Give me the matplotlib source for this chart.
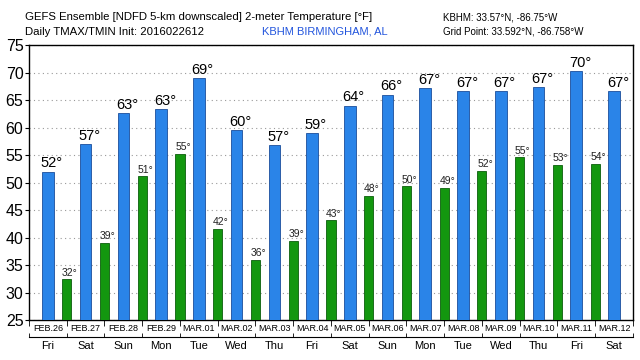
import matplotlib
matplotlib.use("Agg")
import matplotlib.pyplot as plt
import numpy as np

dates = ["FEB.26", "FEB.27", "FEB.28", "FEB.29", "MAR.01", "MAR.02", "MAR.03", "MAR.04",
         "MAR.05", "MAR.06", "MAR.07", "MAR.08", "MAR.09", "MAR.10", "MAR.11", "MAR.12"]
days = ["Fri", "Sat", "Sun", "Mon", "Tue", "Wed", "Thu", "Fri",
        "Sat", "Sun", "Mon", "Tue", "Wed", "Thu", "Fri", "Sat"]
tmax = [52.0, 57.0, 62.7, 63.4, 69.0, 59.6, 56.8, 59.0, 64.0, 66.0, 67.2, 66.6, 66.7, 67.3, 70.2, 66.7]
tmax_labels = [52, 57, 63, 63, 69, 60, 57, 59, 64, 66, 67, 67, 67, 67, 70, 67]
tmin = [32.4, 39.0, 51.1, 55.2, 41.6, 36.0, 39.4, 43.1, 47.6, 49.3, 49.0, 52.1, 54.6, 53.2, 53.4]
tmin_labels = [32, 39, 51, 55, 42, 36, 39, 43, 48, 50, 49, 52, 55, 53, 54]

plt.rcParams['font.family'] = ['Liberation Sans Narrow', 'Liberation Sans', 'DejaVu Sans']
fig = plt.figure(figsize=(6.4, 3.6), dpi=100)
ax = fig.add_axes([0.0453, 0.111, 0.9437, 0.764])

BASE = 25
xb = np.arange(len(tmax))
xg = np.arange(len(tmin)) + 0.5
blue = '#2A84E8'
green = '#13970F'
ax.bar(xb, np.array(tmax) - BASE, bottom=BASE, width=0.31, color=blue,
       edgecolor='#1B4E9B', linewidth=0.6, zorder=3)
ax.bar(xg, np.array(tmin) - BASE, bottom=BASE, width=0.24, color=green,
       edgecolor='#0B5E0B', linewidth=0.6, zorder=3)

for x, v, l in zip(xb, tmax, tmax_labels):
    ax.text(x + 0.1, v + 0.2, f"{l}°", ha='center', va='bottom', fontsize=10.5, color='black', zorder=4)
for x, v, l in zip(xg, tmin, tmin_labels):
    ax.text(x + 0.08, v + 0.3, f"{l}°", ha='center', va='bottom', fontsize=7.5, color='#222222', zorder=4)

ax.set_xlim(-0.5, 15.5)
ax.set_ylim(25, 75)
ax.set_yticks(range(25, 80, 5))
ax.tick_params(axis='y', labelsize=11.5, length=3, pad=1)
ax.yaxis.grid(True, linestyle=(0, (1, 3)), color='#999999', linewidth=0.8, zorder=0)
for s in ax.spines.values():
    s.set_linewidth(1.0)

ax.set_xticks(xb)
ax.set_xticklabels(dates, fontsize=6.5)
ax.tick_params(axis='x', which='major', length=0, pad=3)
ax.set_xticks(np.arange(-0.5, 16, 1), minor=True)
ax.tick_params(axis='x', which='minor', length=4, direction='out')

sec = ax.secondary_xaxis(-0.062)
sec.set_xticks(xb)
sec.set_xticklabels(days, fontsize=8)
sec.tick_params(axis='x', which='major', length=0, pad=3)
sec.set_xticks(np.arange(-0.5, 16, 1), minor=True)
sec.tick_params(axis='x', which='minor', length=3, direction='in')
sec.spines['bottom'].set_linewidth(0.8)

fig.text(25/640, 1 - 17/360, "GEFS Ensemble [NDFD 5-km downscaled] 2-meter Temperature [°F]",
         fontsize=8.2, va='center', ha='left')
fig.text(25/640, 1 - 32/360, "Daily TMAX/TMIN Init: 2016022612", fontsize=8.2, va='center', ha='left')
fig.text(262/640, 1 - 32/360, "KBHM BIRMINGHAM, AL", fontsize=8, va='center', ha='left', color='#2255DD')
fig.text(443/640, 1 - 17/360, "KBHM: 33.57°N, -86.75°W", fontsize=7, va='center', ha='left')
fig.text(443/640, 1 - 32/360, "Grid Point: 33.592°N, -86.758°W", fontsize=7, va='center', ha='left')

fig.savefig("out.png", dpi=100)
